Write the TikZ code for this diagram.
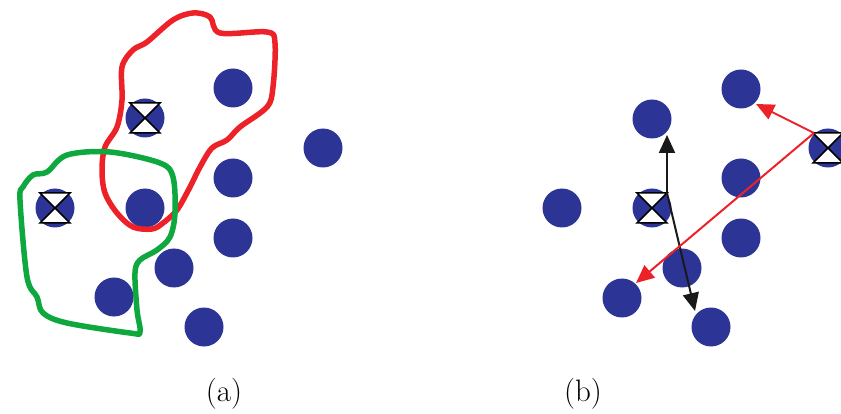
\documentclass[tikz,border=0pt]{standalone}
\usetikzlibrary{arrows.meta,calc}
\definecolor{dotblue}{RGB}{44,52,150}
\definecolor{loopred}{RGB}{236,34,40}
\definecolor{loopgreen}{RGB}{14,168,62}
\tikzset{
  dot/.style={circle, fill=dotblue, minimum size=39pt, inner sep=0pt, outer sep=0pt},
  hourglass/.pic={\filldraw[fill=white, draw=black, line width=1.5pt, line join=miter]
      (-15,-15)--(15,-15)--(0,0)--cycle (-15,15)--(15,15)--(0,0)--cycle;},
  redloop/.style={draw=loopred, line width=5.5pt, line join=round},
  greenloop/.style={draw=loopgreen, line width=5.5pt, line join=round},
  blkarrow/.style={draw=black!90, line width=2pt, -{Triangle[length=18pt,width=16pt]}},
  redarrow/.style={draw=loopred, line width=2pt, -{Triangle[length=18pt,width=16pt]}},
  caption/.style={font=\fontsize{31}{31}\selectfont, inner sep=0pt}
}
\begin{document}
\begin{tikzpicture}[x=1pt,y=-1pt]
\useasboundingbox (0,0) rectangle (841,414);
% panel (a)
\node[dot] (a1) at (233,88) {};
\node[dot] (a2) at (145,118) {};
\node[dot] (a3) at (323,148) {};
\node[dot] (a4) at (233,178) {};
\node[dot] (a5) at (55,208) {};
\node[dot] (a6) at (145,208) {};
\node[dot] (a7) at (233,238) {};
\node[dot] (a8) at (174,268) {};
\node[dot] (a9) at (114,297) {};
\node[dot] (a10) at (204,327) {};
\pic at (a2) {hourglass};
\pic at (a5) {hourglass};
\draw[redloop] plot[smooth cycle, tension=0.55] coordinates {
 (193,13) (210,17) (220,33) (267,32) (275,43) (273,87) (267,107) (240,127)
 (227,140) (212,148) (200,167) (190,187) (177,210) (163,223) (152,229)
 (133,227) (117,213) (105,193) (102,170) (105,147) (117,127) (122,100)
 (122,67) (133,50) (147,42) (173,20)};
\draw[greenloop] plot[smooth cycle, tension=0.55] coordinates {
 (67,155) (110,152) (160,163) (173,177) (175,213) (170,237) (157,250)
 (140,260) (135,273) (137,310) (140,332) (130,333) (67,323) (43,313)
 (37,297) (27,277) (20,200) (23,187) (33,175) (47,172)};
\node[caption] (capa) at (224,394) {(a)};
% panel (b)
\node[dot] (b1) at (741,89) {};
\node[dot] (b2) at (652,119) {};
\node[dot] (b3) at (828,148) {};
\node[dot] (b4) at (741,178) {};
\node[dot] (b5) at (562,208) {};
\node[dot] (b6) at (652,208) {};
\node[dot] (b7) at (741,238) {};
\node[dot] (b8) at (682,268) {};
\node[dot] (b9) at (622,298) {};
\node[dot] (b10) at (711,327) {};
\pic at (b6) {hourglass};
\pic at (b3) {hourglass};
\coordinate (s1) at ($(b6)+(15,-15)$);
\coordinate (s2) at ($(b3)+(-14,-15)$);
\coordinate (e1) at (667,135);
\coordinate (e2) at (695,311);
\coordinate (e3) at (756,104);
\coordinate (e4) at (636,283);
\draw[blkarrow] (s1) -- (e1);
\draw[blkarrow] (s1) -- (e2);
\draw[redarrow] (s2) -- (e3);
\draw[redarrow] (s2) -- (e4);
\node[caption] (capb) at (583,394) {(b)};
\end{tikzpicture}
\end{document}
